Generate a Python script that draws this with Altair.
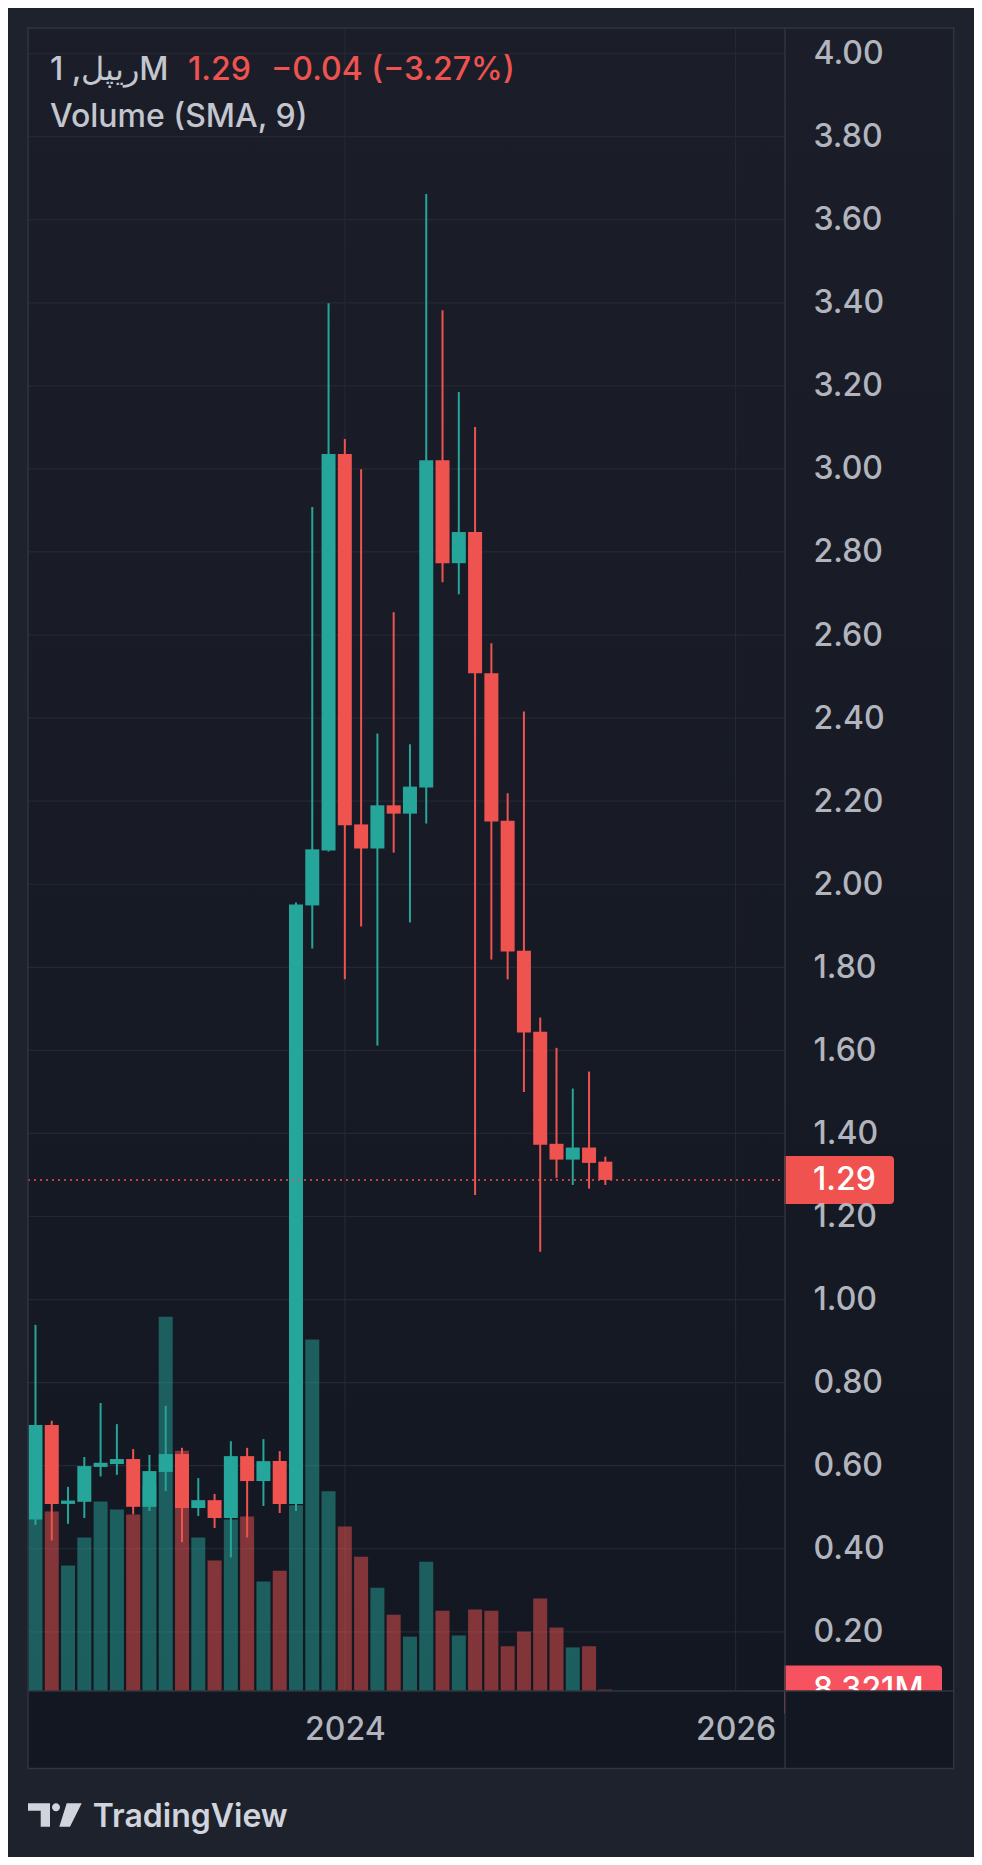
import altair as alt
import pandas as pd

# ---------------- data ----------------
months = ["2022-06", "2022-07", "2022-08", "2022-09", "2022-10", "2022-11", "2022-12",
          "2023-01", "2023-02", "2023-03", "2023-04", "2023-05", "2023-06", "2023-07",
          "2023-08", "2023-09", "2023-10", "2023-11", "2023-12", "2024-01", "2024-02",
          "2024-03", "2024-04", "2024-05", "2024-06", "2024-07", "2024-08", "2024-09",
          "2024-10", "2024-11", "2024-12", "2025-01", "2025-02", "2025-03", "2025-04",
          "2025-05"]
opens = [0.470, 0.698, 0.508, 0.513, 0.597, 0.604, 0.616, 0.501, 0.585, 0.628, 0.498, 0.517,
         0.474, 0.623, 0.563, 0.611, 0.508, 1.949, 2.081, 3.036, 2.144, 2.086, 2.190, 2.170,
         2.233, 3.021, 2.773, 2.848, 2.508, 2.153, 1.840, 1.645, 1.375, 1.337, 1.366, 1.332]
highs = [0.939, 0.708, 0.549, 0.621, 0.751, 0.700, 0.640, 0.626, 0.744, 0.643, 0.570, 0.532,
         0.659, 0.643, 0.664, 0.635, 1.956, 2.908, 3.399, 3.072, 2.999, 2.363, 2.655, 2.337,
         3.662, 3.382, 3.185, 3.101, 2.580, 2.219, 2.416, 1.679, 1.606, 1.508, 1.549, 1.344]
lows = [0.457, 0.420, 0.460, 0.474, 0.574, 0.578, 0.483, 0.491, 0.539, 0.416, 0.479, 0.450,
        0.379, 0.427, 0.503, 0.486, 0.491, 1.845, 2.079, 1.771, 1.898, 1.612, 2.076, 1.908,
        2.146, 2.727, 2.698, 1.252, 1.819, 1.771, 1.500, 1.115, 1.293, 1.276, 1.267, 1.276]
closes = [0.698, 0.508, 0.516, 0.599, 0.607, 0.616, 0.501, 0.587, 0.628, 0.498, 0.517, 0.474,
          0.623, 0.563, 0.611, 0.508, 1.951, 2.084, 3.036, 2.142, 2.086, 2.190, 2.170, 2.235,
          3.021, 2.773, 2.848, 2.508, 2.151, 1.838, 1.643, 1.373, 1.337, 1.366, 1.329, 1.288]
volumes_m = [1016, 1066, 745, 912, 1126, 1078, 1048, 1218, 2224, 1427, 912, 775, 1019, 1036,
             650, 715, 1104, 2089, 1186, 978, 798, 614, 453, 323, 768, 477, 330, 484, 477,
             266, 353, 550, 377, 259, 266, 8.321]

price_ticks = [0.20, 0.40, 0.60, 0.80, 1.00, 1.20, 1.40, 1.60, 1.80, 2.00,
               2.20, 2.40, 2.60, 2.80, 3.00, 3.20, 3.40, 3.60, 3.80, 4.00]
year_ticks = [0, 24]           # months after Jan 2024
year_labels = ["2024", "2026"]

header_symbol = "ريپل, 1M"
header_price = "1.29"
header_change = "−0.04 (−3.27%)"
header_volume = "Volume (SMA, 9)"
brand = "TradingView"

# ---------------- styling ----------------
UP = "#26a69a"
DOWN = "#ef5350"
BG_OUT = "#1e222d"
GRID = "#242833"
BORDER = "#30343f"
TXT = "#b2b5be"
HEAD = "#c3c6ce"
FONT = "Inter"
FS = 32
FW = 500

W, H = 757, 1663
FRAME_W, FRAME_H = 925.7, 1740.5
X_DOM = [-19.152, 26.727]
Y_DOM = [0.0575, 4.0616]
V_DOM = [0, 9880]


def month_index(s):
    y, m = s.split("-")
    return (int(y) - 2024) * 12 + int(m) - 1


df = pd.DataFrame({"month": months, "open": opens, "high": highs, "low": lows,
                   "close": closes, "volume": volumes_m})
df["idx"] = df["month"].map(month_index)
df["dir"] = ["up" if c >= o else "down" for o, c in zip(opens, closes)]

last = df.iloc[[-1]].copy()
last["price_label"] = last["close"].map(lambda v: f"{v:.2f}")
last["vol_label"] = last["volume"].map(lambda v: f"{v:.3f}M")

one = pd.DataFrame({"k": [0]})

label_expr = " : ".join(
    [f"datum.value == {v} ? '{l}'" for v, l in zip(year_ticks, year_labels)]) + " : ''"

x_axis = alt.Axis(values=year_ticks, labelExpr=label_expr, grid=False, ticks=False,
                  tickSize=0, domain=False, labelPadding=38, labelBaseline="middle",
                  labelFont=FONT, labelFontSize=FS, labelFontWeight=FW, labelColor=TXT,
                  labelFlush=False, labelOverlap=False, zindex=1, title=None)
y_axis = alt.Axis(orient="right", values=price_ticks, format=".2f", grid=False, ticks=False,
                  tickSize=0, domain=False, labelPadding=28, labelFont=FONT, labelFontSize=FS,
                  labelFontWeight=FW, labelColor=TXT, labelOverlap=False, labelAlign="left",
                  labelBaseline="middle", zindex=1, title=None)

xs = alt.X("idx:Q", scale=alt.Scale(domain=X_DOM, nice=False, zero=False), axis=x_axis)
yscale = alt.Scale(domain=Y_DOM, nice=False, zero=False)
vscale = alt.Scale(domain=V_DOM, nice=False)
color_enc = alt.Color("dir:N", scale=alt.Scale(domain=["up", "down"], range=[UP, DOWN]),
                      legend=None)

# ---------------- layers ----------------
bg = alt.Chart(one).mark_rect(
    fill=alt.LinearGradient(gradient="linear", x1=0, x2=0, y1=0, y2=1,
                            stops=[alt.GradientStop(color="#1b1e29", offset=0),
                                   alt.GradientStop(color="#131722", offset=1)])
).encode(x=alt.value(0), x2=alt.value(FRAME_W), y=alt.value(0), y2=alt.value(FRAME_H))

hgrid = alt.Chart(pd.DataFrame({"p": price_ticks})).mark_rule(
    color=GRID, strokeWidth=1.2
).encode(y=alt.Y("p:Q", scale=yscale, axis=None), x=alt.value(0), x2=alt.value(W))

vgrid = alt.Chart(pd.DataFrame({"idx": year_ticks})).mark_rule(
    color=GRID, strokeWidth=1.2
).encode(x=xs, y=alt.value(0), y2=alt.value(H))

vol = alt.Chart(df).mark_bar(size=14, opacity=0.5, clip=True).encode(
    x=xs, y=alt.Y("volume:Q", scale=vscale, axis=None), color=color_enc)

wick = alt.Chart(df).mark_rule(strokeWidth=2, clip=True).encode(
    x=xs, y=alt.Y("low:Q", scale=yscale, axis=None), y2="high:Q", color=color_enc)

body = alt.Chart(df).mark_bar(size=14, clip=True).encode(
    x=xs, y=alt.Y("open:Q", scale=yscale, axis=y_axis), y2="close:Q", color=color_enc)

pline = alt.Chart(last).mark_rule(color=DOWN, strokeDash=[2, 4], strokeWidth=1.6).encode(
    y=alt.Y("close:Q", scale=yscale, axis=None), x=alt.value(0), x2=alt.value(W))

PBOX = "M-55,-24 H51 Q55,-24 55,-20 V20 Q55,24 51,24 H-55 Z"
pbox = alt.Chart(last).mark_point(shape=PBOX, filled=True, size=4, opacity=1,
                                  color="#f0524f").encode(
    x=alt.value(811), y=alt.Y("close:Q", scale=yscale, axis=None))
ptext = alt.Chart(last).mark_text(align="left", baseline="middle", font=FONT, fontSize=FS,
                                  fontWeight=FW, color="#ffffff").encode(
    x=alt.value(785), y=alt.Y("close:Q", scale=yscale, axis=None), text="price_label:N")

VBOX = "M-79,-24 H75 Q79,-24 79,-20 V24 H-79 Z"
vbox = alt.Chart(last).mark_point(shape=VBOX, filled=True, size=4, opacity=1,
                                  color="#f7525f").encode(
    x=alt.value(835), y=alt.Y("volume:Q", scale=vscale, axis=None))
vtext = alt.Chart(last).mark_text(align="left", baseline="middle", font=FONT, fontSize=FS,
                                  fontWeight=FW, color="#ffffff").encode(
    x=alt.value(785), y=alt.Y("volume:Q", scale=vscale, axis=None), text="vol_label:N")

cover = alt.Chart(one).mark_rect(color="#131722").encode(
    x=alt.value(W), x2=alt.value(FRAME_W), y=alt.value(H), y2=alt.value(FRAME_H))

frame = alt.Chart(one).mark_rect(fillOpacity=0, stroke=BORDER, strokeWidth=1.5).encode(
    x=alt.value(0), x2=alt.value(FRAME_W), y=alt.value(0), y2=alt.value(FRAME_H))
vdiv = alt.Chart(one).mark_rule(color=BORDER, strokeWidth=1.5).encode(
    x=alt.value(W), y=alt.value(0), y2=alt.value(FRAME_H))
hdiv = alt.Chart(one).mark_rule(color=BORDER, strokeWidth=1.5).encode(
    y=alt.value(H), x=alt.value(0), x2=alt.value(FRAME_W))

head_df = pd.DataFrame({
    "t": [header_symbol, header_price, header_change, header_volume],
    "x": [22, 160, 243, 22],
    "y": [42, 42, 42, 88.7],
    "c": [HEAD, DOWN, DOWN, HEAD],
})
header = alt.Chart(head_df).mark_text(align="left", baseline="middle", font=FONT,
                                      fontSize=FS, fontWeight=FW).encode(
    x=alt.X("x:Q", scale=None, axis=None), y=alt.Y("y:Q", scale=None, axis=None),
    text="t:N", color=alt.Color("c:N", scale=None))

LOGO = ("M0,0 H22 V23.4 H12.7 V7.4 H0 Z "
        "M24,4 A4,4 0 1,0 32,4 A4,4 0 1,0 24,4 Z "
        "M38.7,0 H53.7 L42,23.4 H31.3 Z")
logo = alt.Chart(one).mark_point(shape=LOGO, filled=True, size=4, opacity=1,
                                 color="#d1d4dc").encode(x=alt.value(0), y=alt.value(1775.3))
brand_t = alt.Chart(pd.DataFrame({"t": [brand]})).mark_text(
    align="left", baseline="alphabetic", font=FONT, fontSize=32, fontWeight=600,
    color="#d1d4dc").encode(x=alt.value(64.7), y=alt.value(1798.7), text="t:N")

chart = alt.layer(
    bg, hgrid, vgrid, vol, wick, body, pline, pbox, ptext, vbox, vtext,
    cover, frame, vdiv, hdiv, header, logo, brand_t
).resolve_scale(y="independent").properties(
    width=W, height=H,
    padding={"left": 20, "top": 20, "right": 189, "bottom": 166},
    autosize=alt.AutoSizeParams(type="none"),
    background=BG_OUT,
).configure_view(stroke=None)

chart.save("out.html", embed_options={"renderer": "svg", "actions": False})
